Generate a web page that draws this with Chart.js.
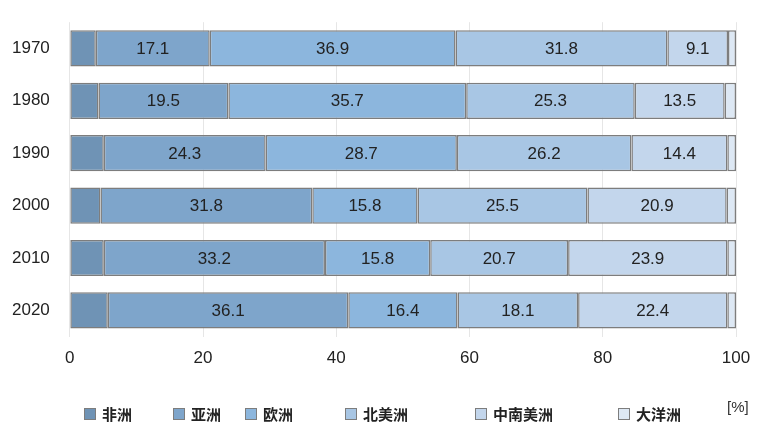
<!DOCTYPE html>
<html><head><meta charset="utf-8">
<script src="https://cdn.jsdelivr.net/npm/chart.js@4"></script>
<style>body{margin:0;background:#fff}#w{position:relative;width:769px;height:425px}
#u{position:absolute;left:727px;top:398px;font:15px "Liberation Sans",Arial;color:#333}
.l{position:absolute;top:403px;font:bold 15px "Noto Sans CJK SC";color:#222;display:flex;align-items:center;white-space:nowrap}
.l i{display:inline-block;width:10px;height:10px;border:1px solid #7d7d7d;margin-right:6px}</style>
</head><body><div id="w"><canvas id="c" width="769" height="425"></canvas><div id="u">[%]</div><div id="lg"></div></div>
<script>
const years=['1970','1980','1990','2000','2010','2020'];
const names=['非洲','亚洲','欧洲','北美洲','中南美洲','大洋洲'];
const africa=[3.9,4.3,5.1,4.6,5.1,5.7];
const asia=[17.1,19.5,24.3,31.8,33.2,36.1];
const europe=[36.9,35.7,28.7,15.8,15.8,16.4];
const namerica=[31.8,25.3,26.2,25.5,20.7,18.1];
const csamerica=[9.1,13.5,14.4,20.9,23.9,22.4];
const oceania=[1.2,1.7,1.3,1.4,1.3,1.3];
const colors=['#6f93b5','#7ea5cb','#8cb6dd','#a8c6e4','#c3d6ec','#dde8f4'];
const series=[africa,asia,europe,namerica,csamerica,oceania];
const showLabel=[false,true,true,true,true,false];
const legX=[84,173,245,345,475,618];
names.forEach((n,i)=>{const d=document.createElement('div');d.className='l';d.style.left=legX[i]+'px';d.innerHTML='<i style="background:'+colors[i]+'"></i>'+n;document.getElementById('lg').appendChild(d);});
const labelPlugin={id:'lbl',afterDatasetsDraw(ch){const ctx=ch.ctx;ctx.save();ctx.font='17px "Liberation Sans",Arial';ctx.fillStyle='#222';ctx.textAlign='center';ctx.textBaseline='middle';
ch.data.datasets.forEach((d,i)=>{if(!showLabel[i])return;ch.getDatasetMeta(i).data.forEach((b,j)=>{ctx.fillText(d.data[j].toFixed(1),(b.x+b.base)/2,b.y+1);});});ctx.restore();}};
new Chart(document.getElementById('c'),{type:'bar',
data:{labels:years,datasets:series.map((s,i)=>({label:names[i],data:s,backgroundColor:colors[i],borderColor:'#7d7d7d',borderWidth:1.5,borderSkipped:false,barPercentage:0.69,categoryPercentage:1}))},
options:{indexAxis:'y',responsive:false,animation:false,layout:{padding:{left:0,right:33,top:0,bottom:44}},
plugins:{legend:{display:false},tooltip:{enabled:false}},
scales:{x:{stacked:true,min:0,max:100,ticks:{stepSize:20,color:'#222',font:{size:17,family:'"Liberation Sans",Arial'},padding:12},grid:{color:'#e6e6e6',drawTicks:false},border:{display:false}},
y:{stacked:true,ticks:{color:'#222',font:{size:17,family:'"Liberation Sans",Arial'},padding:12},grid:{display:false},border:{display:false}}}},
plugins:[labelPlugin]});
</script></body></html>
